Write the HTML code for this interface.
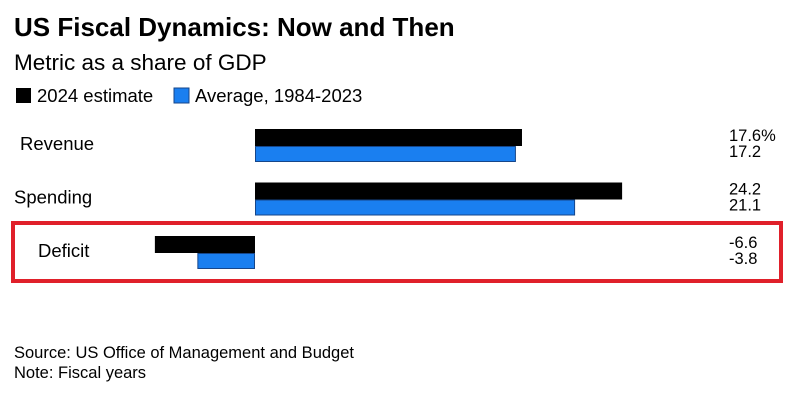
<!DOCTYPE html>
<html><head><meta charset="utf-8"><style>
body{margin:0;background:#fff;width:810px;height:407px;overflow:hidden;font-family:"Liberation Sans",sans-serif}
</style></head><body>
<svg width="810" height="407" xmlns="http://www.w3.org/2000/svg" font-family="Liberation Sans, sans-serif">
<text x="14" y="36" font-size="26" font-weight="bold" fill="#000">US Fiscal Dynamics: Now and Then</text>
<text x="14" y="70" font-size="22.5" fill="#000">Metric as a share of GDP</text>
<rect x="16" y="88" width="15" height="15" fill="#000"/>
<text x="37" y="102" font-size="18.5">2024 estimate</text>
<rect x="174" y="88" width="15" height="15" fill="#1a7ff0" stroke="#16468a" stroke-width="1"/>
<text x="195" y="102" font-size="18.5">Average, 1984-2023</text>
<g id="bars"></g>
<rect x="13" y="223" width="768" height="58" fill="none" stroke="#e0202a" stroke-width="4"/>
<text x="14" y="358" font-size="16.5">Source: US Office of Management and Budget</text>
<text x="14" y="378" font-size="16.5">Note: Fiscal years</text>
</svg>
<script>
const categories = ["Revenue","Spending","Deficit"];
const estimate2024 = [17.6, 24.2, -6.6];
const average = [17.2, 21.1, -3.8];
const estimateLabels = ["17.6%","24.2","-6.6"];
const averageLabels = ["17.2","21.1","-3.8"];
const NS="http://www.w3.org/2000/svg";
const g=document.getElementById('bars');
const x0=255, scale=15.17;
const xs=v=>x0+v*scale;
const rowY=i=>129+i*53.5;
const labelX=[20,14,38];
function mk(t,a){const e=document.createElementNS(NS,t);for(const k in a)e.setAttribute(k,a[k]);g.appendChild(e);return e;}
categories.forEach((c,i)=>{
  const y=rowY(i);
  const t=mk('text',{x:labelX[i],y:y+21,'font-size':18.5});
  t.textContent=c;
  
  
  const a=estimate2024[i], b=average[i];
  const r1=mk('rect',{x:Math.min(xs(0),xs(a)),y:y,width:Math.abs(xs(a)-xs(0)),height:17,fill:'#000'});
  
  
  const r2=mk('rect',{x:Math.min(xs(0),xs(b))+0.5,y:y+17.5,width:Math.abs(xs(b)-xs(0))-1,height:15,fill:'#1a7ff0',stroke:'#16468a','stroke-width':1});
  
  
  const l1=mk('text',{x:729,y:y+12,'font-size':16.5});
  l1.textContent=estimateLabels[i];
  
  
  const l2=mk('text',{x:729,y:y+28,'font-size':16.5});
  l2.textContent=averageLabels[i];
  
  
});
</script>
</body></html>
